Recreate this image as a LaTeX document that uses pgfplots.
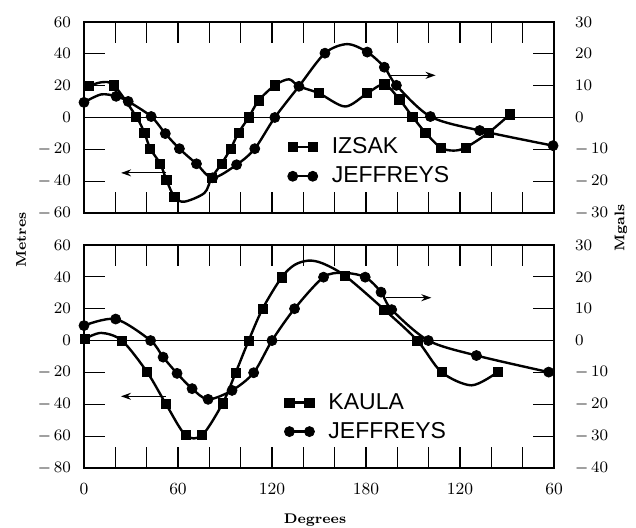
\documentclass[border=0pt]{standalone}
\usepackage{fontspec}
\usepackage{pgfplots}
\pgfplotsset{compat=1.18}
\usetikzlibrary{arrows.meta}
\newfontfamily\legfont{Liberation Sans}

\pgfplotsset{
  panel/.style={
    scale only axis, width=235pt, xmin=0, xmax=300,
    axis line style={line width=1.1pt},
    tick align=inside, major tick length=10.5pt,
    tick style={line width=0.6pt, black},
    xtick={0,20,...,300},
    xtick pos=both, ytick pos=both, yticklabel pos=left,
    ticklabel style={font=\fontsize{8.5}{10}\selectfont},
    yticklabel style={xshift=-3pt},
    legend style={draw=none, fill=none, inner sep=0pt,
      font=\legfont\fontsize{11.5}{13}\selectfont,
      nodes={inner sep=0pt}, row sep=5pt,
      /tikz/every odd column/.append style={column sep=7pt}},
    legend cell align=left,
  },
  rightpanel/.style={
    scale only axis, width=235pt, xmin=0, xmax=300,
    hide x axis, axis y line*=right, axis line style={draw=none},
    major tick length=0pt,
    ticklabel style={font=\fontsize{8.5}{10}\selectfont},
    yticklabel style={xshift=7pt},
  },
  curve/.style={black, line width=1.2pt, smooth, tension=0.5, forget plot},
  sq/.style={only marks, mark=square*, mark size=2.3pt, black, legimg},
  ci/.style={only marks, mark=*, mark size=2.5pt, black, legimg},
  legimg/.style={legend image code/.code={
    \draw[black, line width=1.2pt] (0pt,0pt) -- (10pt,0pt);
    \draw[##1] plot[mark repeat=1] coordinates {(0pt,0pt) (10pt,0pt)};}},
}

\begin{document}
\begin{tikzpicture}
\path[use as bounding box] (-42pt,-157.5pt) rectangle (276pt,106.5pt);

% ---- top panel: Izsak / Jeffreys
\begin{axis}[panel, at={(0pt,0pt)}, anchor=south west, height=95.5pt,
  ymin=-60, ymax=60, ytick={-60,-40,...,60},
  yticklabels={$-\,60$,$-\,40$,$-\,20$,$0$,$20$,$40$,$60$},
  xticklabels={},
  legend style={at={(axis cs:129.8,-27.8)}, anchor=west}]
\draw[line width=0.4pt] (axis cs:0,0) -- (axis cs:300,0);
\addplot[curve] coordinates {
 (3.2,19.6) (10.9,22.1) (19.2,20.2) (33.3,0.6) (38.5,-9.5) (42.3,-19.6)
 (48.7,-29.1) (52.6,-39.2) (57.7,-49.9) (64.1,-52.9) (76.9,-47.4)
 (81.4,-37.9) (87.8,-29.1) (93.6,-19.6) (98.7,-9.5) (105.1,0) (111.5,10.7)
 (121.8,20.2) (130.8,24) (137.2,19.6) (150,15.2) (166.7,6.9) (180.8,15.2)
 (191.7,20.8) (201.3,11.4) (209.6,0.6) (217.9,-9.5) (227.6,-18.9)
 (235.9,-20.8) (243.6,-18.9) (258.3,-9.5) (271.8,1.9)};
\addplot[curve] coordinates {
 (0,9.5) (10.9,14.5) (20.5,13.3) (28.2,10.1) (42.9,0.6) (51.9,-10.1)
 (60.9,-19.6) (71.8,-29.1) (82.1,-37.9) (97.4,-29.7) (109,-19.6) (121.8,0)
 (137.2,19.6) (153.8,40.4) (168,46.1) (180.8,41.1) (191.7,31.6) (199.4,20.2)
 (221.1,0.6) (252.6,-8.2) (299.4,-17.7)};
\addplot[sq] coordinates {
 (3.2,19.6) (19.2,20.2) (33.3,0.6) (38.5,-9.5) (42.3,-19.6)
 (48.7,-29.1) (52.6,-39.2) (57.7,-49.9)
 (81.4,-37.9) (87.8,-29.1) (93.6,-19.6) (98.7,-9.5) (105.1,0) (111.5,10.7)
 (121.8,20.2) (150,15.2) (180.8,15.2)
 (191.7,20.8) (201.3,11.4) (209.6,0.6) (217.9,-9.5) (227.6,-18.9)
 (243.6,-18.9) (258.3,-9.5) (271.8,1.9)};
\addlegendentry{IZSAK}
\addplot[ci] coordinates {
 (0,9.5) (20.5,13.3) (28.2,10.1) (42.9,0.6) (51.9,-10.1)
 (60.9,-19.6) (71.8,-29.1) (82.1,-37.9) (97.4,-29.7) (109,-19.6) (121.8,0)
 (137.2,19.6) (153.8,40.4) (180.8,41.1) (191.7,31.6) (199.4,20.2)
 (221.1,0.6) (252.6,-8.2) (299.4,-17.7)};
\addlegendentry{JEFFREYS}
\draw[line width=0.6pt, -{Stealth[length=5pt,width=3.5pt]}] (axis cs:52.6,-34.8) -- (axis cs:23.7,-34.8);
\draw[line width=0.6pt, -{Stealth[length=5pt,width=3.5pt]}] (axis cs:195.5,26.5) -- (axis cs:224.4,26.5);
\end{axis}
\begin{axis}[rightpanel, at={(0pt,0pt)}, anchor=south west, height=95.5pt,
  ymin=-60, ymax=60, ytick={-60,-40,...,60},
  yticklabels={$-\,30$,$-\,20$,$-\,10$,$0$,$10$,$20$,$30$}]
\end{axis}

% ---- bottom panel: Kaula / Jeffreys
\begin{axis}[panel, at={(0pt,-16pt)}, anchor=north west, height=111.5pt,
  ymin=-80, ymax=60, ytick={-80,-60,...,60},
  yticklabels={$-\,80$,$-\,60$,$-\,40$,$-\,20$,$0$,$20$,$40$,$60$},
  xticklabels={0,,,60,,,120,,,180,,,120,,,60},
  xticklabel style={yshift=-4pt},
  legend style={at={(axis cs:127.7,-48.1)}, anchor=west}]
\draw[line width=0.4pt] (axis cs:0,0) -- (axis cs:300,0);
\addplot[curve] coordinates {
 (0.6,1.1) (11,4.8) (24.2,0) (40.3,-19.8) (52.4,-40) (64.8,-59.4) (75.4,-59.4)
 (88.5,-39.4) (96.8,-20.2) (105.1,0) (114,20) (126.1,39.6) (134.4,47.5)
 (143.3,50.2) (152.2,48.5) (166.7,40.6) (191.7,19.4) (212.8,0) (228.2,-19.8)
 (247.4,-28.1) (264,-19.8)};
\addplot[curve] coordinates {
 (0,9.4) (20.2,13.5) (42.5,0) (50.5,-10.4) (59.4,-20.6) (69,-30.2) (79.2,-36.9)
 (94.5,-31.3) (108.3,-20.2) (120,0) (134.4,20) (152.9,39.8) (165.6,42.5)
 (179.5,39.8) (189.6,30.4) (196.4,19.4) (219.8,0) (250.5,-9.4) (296.6,-19.8)};
\addplot[sq] coordinates {
 (0.6,1.1) (24.2,0) (40.3,-19.8) (52.4,-40) (64.8,-59.4) (75.4,-59.4)
 (88.5,-39.4) (96.8,-20.2) (105.1,0) (114,20) (126.1,39.6)
 (166.7,40.6) (191.7,19.4) (212.8,0) (228.2,-19.8) (264,-19.8)};
\addlegendentry{KAULA}
\addplot[ci] coordinates {
 (0,9.4) (20.2,13.5) (42.5,0) (50.5,-10.4) (59.4,-20.6) (69,-30.2) (79.2,-36.9)
 (94.5,-31.3) (108.3,-20.2) (120,0) (134.4,20) (152.9,39.8)
 (179.5,39.8) (189.6,30.4) (196.4,19.4) (219.8,0) (250.5,-9.4) (296.6,-19.8)};
\addlegendentry{JEFFREYS}
\draw[line width=0.6pt, -{Stealth[length=5pt,width=3.5pt]}] (axis cs:52.2,-35) -- (axis cs:23.6,-35);
\draw[line width=0.6pt, -{Stealth[length=5pt,width=3.5pt]}] (axis cs:193,26.9) -- (axis cs:221.7,26.9);
\end{axis}
\begin{axis}[rightpanel, at={(0pt,-16pt)}, anchor=north west, height=111.5pt,
  ymin=-80, ymax=60, ytick={-80,-60,...,60},
  yticklabels={$-\,40$,$-\,30$,$-\,20$,$-\,10$,$0$,$10$,$20$,$30$}]
\end{axis}

\node[rotate=90, font=\bfseries\fontsize{7}{8}\selectfont] at (-31.5pt,-13.5pt) {Metres};
\node[rotate=90, font=\bfseries\fontsize{7}{8}\selectfont] at (268.5pt,-7.5pt) {Mgals};
\node[font=\bfseries\fontsize{7}{8}\selectfont] at (115.5pt,-153.5pt) {Degrees};
\end{tikzpicture}
\end{document}
